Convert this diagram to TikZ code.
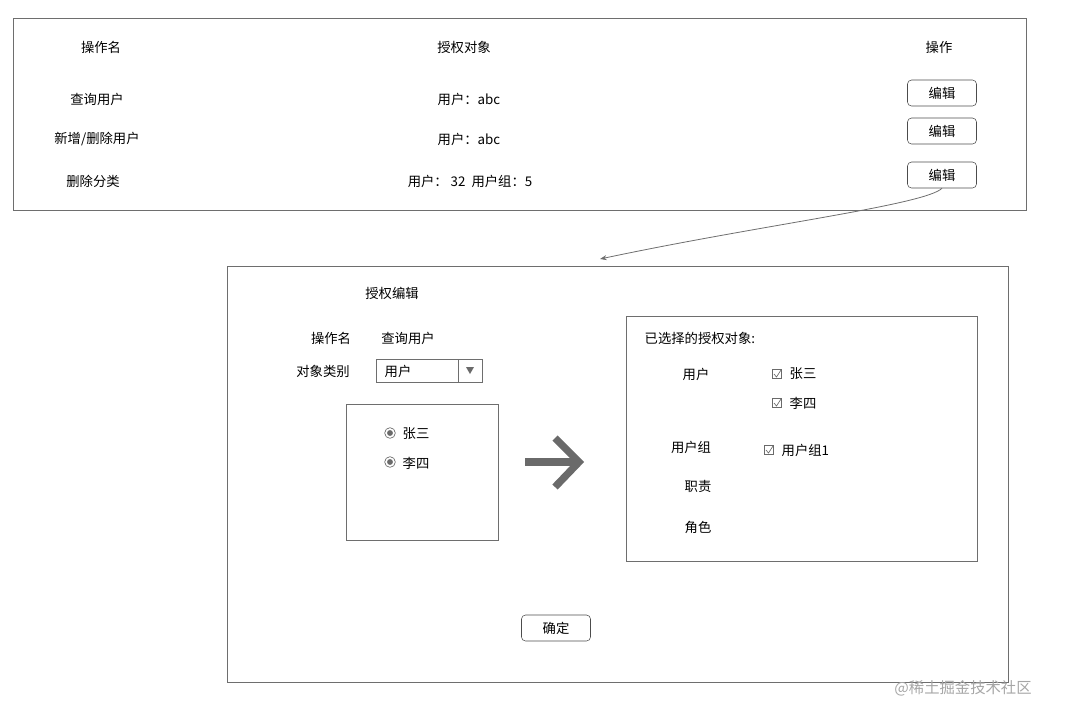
\documentclass[tikz,border=0pt]{standalone}
\usepackage{fontspec}
\setmainfont{Noto Sans CJK SC}
\usetikzlibrary{arrows.meta}
\definecolor{frame}{HTML}{6E6E6E}
\definecolor{glyph}{HTML}{6A6A6A}

\begin{document}
\begin{tikzpicture}[x=0.75pt,y=-0.75pt,font=\fontsize{10}{12}\selectfont]
\tikzstyle{panel}=[draw=frame,line width=0.6pt]
\tikzstyle{btn}=[draw=black!70,rounded corners=3pt,minimum width=51.75pt,minimum height=19.5pt,inner sep=0pt]
\tikzstyle{chk}=[draw=glyph,line width=0.5pt,minimum size=7pt,inner sep=0pt]
\tikzstyle{radio}=[circle,draw=glyph,line width=0.5pt,minimum size=8pt,inner sep=0pt]

	\useasboundingbox (0,0) rectangle (1065,719);
	% table of operations
	\draw[panel] (13,18) rectangle (1026,210);
	\node (hName)  at (101,47) {操作名};
	\node (hObj)   at (464,47) {授权对象};
	\node (hOp)    at (939,47) {操作};
	\node (r1name) at (97,99)  {查询用户};
	\node (r2name) at (97,139) {新增/删除用户};
	\node (r3name) at (93,181) {删除分类};
	\node (r1obj)  at (469,99)  {用户：abc};
	\node (r2obj)  at (469,139) {用户：abc};
	\node (r3obj)  at (470,181) {用户：\ 32\ \ 用户组：5};
	\node[btn] (e1) at (942,93)  {编辑};
	\node[btn] (e2) at (942,131) {编辑};
	\node[btn] (e3) at (942,175) {编辑};

	% edit dialog
	\draw[panel] (227,266) rectangle (1008,682);
	\coordinate (dlg) at (600,259);
	\draw[-{Stealth[length=5pt]},frame,line width=0.6pt] (e3.south) .. controls (925,205) and (760,225) .. (dlg);
	\node (title)  at (392,293) {授权编辑};
	\node (lName)  at (331,338) {操作名};
	\node (vName)  at (408,338) {查询用户};
	\node (lType)  at (323,371) {对象类别};
	\draw[panel] (376,359) rectangle (482,382);
	\draw[panel] (458,359) -- (458,382);
	\node[anchor=west] (vType) at (380,371) {用户};
	\fill[glyph] (466,367) -- (474,367) -- (470,374) -- cycle;

	% candidate list
	\draw[panel] (346,404) rectangle (498,540);
	\node[radio] (rd1) at (390,433) {};
	\fill[glyph] (rd1) circle (2.2pt);
	\node[anchor=west] (c1) at (398,434) {张三};
	\node[radio] (rd2) at (390,462) {};
	\fill[glyph] (rd2) circle (2.2pt);
	\node[anchor=west] (c2) at (398,463) {李四};

	% big arrow
	\draw[glyph,line width=5.5pt] (525,462) -- (578,462);
	\draw[glyph,line width=5.5pt] (555,438) -- (579,462) -- (555,487);

	% selected panel
	\draw[panel] (626,316) rectangle (977,561);
	\node[anchor=west] (sel) at (640,338) {已选择的授权对象:};
	\node (gUser)  at (696,374) {用户};
	\node[chk] (k1) at (777,374) {};
	\draw[glyph,line width=0.5pt] (774,374) -- (776.5,377) -- (781,370);
	\node[anchor=west] (s1) at (785,374) {张三};
	\node[chk] (k2) at (777,403) {};
	\draw[glyph,line width=0.5pt] (774,403) -- (776.5,406) -- (781,399);
	\node[anchor=west] (s2) at (785,403) {李四};
	\node (gGroup) at (691,447) {用户组};
	\node[chk] (k3) at (769,450) {};
	\draw[glyph,line width=0.5pt] (766,450) -- (768.5,453) -- (773,446);
	\node[anchor=west] (s3) at (777,450) {用户组1};
	\node (gDuty)  at (698,486) {职责};
	\node (gRole)  at (698,527) {角色};

	\node[btn] (ok) at (556,628) {确定};
	\node[text=black!35,font=\fontsize{11.5}{13}\selectfont] (wm) at (963,688) {@稀土掘金技术社区};
\end{tikzpicture}
\end{document}
